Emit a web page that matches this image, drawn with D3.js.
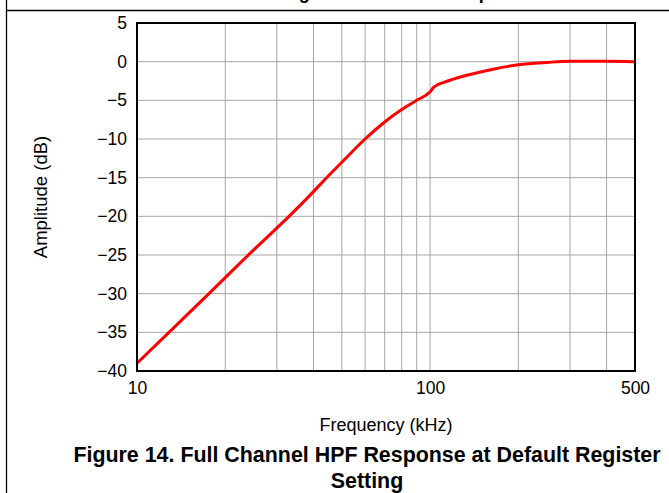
<!DOCTYPE html>
<html>
<head>
<meta charset="utf-8">
<script src="https://cdn.jsdelivr.net/npm/d3@7"></script>
<style>
  body { margin: 0; background: #fff; }
  svg { display: block; font-family: "Liberation Sans", Arial, sans-serif; }
</style>
</head>
<body>
<div id="chart"></div>
<script>
// values
const freqKHz = [10, 12.7, 17.7, 24.6, 33, 37.5, 46.5, 50, 60, 70, 80, 90, 100, 103, 115, 150, 200, 250, 300, 400, 500];
const ampDB   = [-39, -35.2, -29.9, -24.6, -20, -17.9, -14.2, -13.0, -10.0, -7.8, -6.2, -5.0, -3.9, -3.3, -2.5, -1.3, -0.4, -0.1, 0.05, 0.05, 0];

const yTicks = [5, 0, -5, -10, -15, -20, -25, -30, -35, -40];
const xGrid = [20, 30, 40, 50, 60, 70, 80, 90, 100, 200, 300, 400];
const xLabels = [10, 100, 500];

const data = freqKHz.map((f, i) => ({ f: f, a: ampDB[i] }));

const width = 669, height = 493;
const margin = { top: 23, right: 34, bottom: 122, left: 137 };

const svg = d3.select("#chart").append("svg")
    .attr("width", width)
    .attr("height", height);

const x = d3.scaleLog().domain([10, 500])
    .range([margin.left, width - margin.right]);
const y = d3.scaleLinear().domain([-40, 5])
    .range([height - margin.bottom, margin.top]);

// outer frame of the datasheet box
svg.append("line").attr("x1", 6.5).attr("x2", 6.5).attr("y1", 0).attr("y2", height)
    .attr("stroke", "#000").attr("stroke-width", 1.3);
svg.append("line").attr("x1", 6).attr("x2", width).attr("y1", 10.5).attr("y2", 10.5)
    .attr("stroke", "#000").attr("stroke-width", 1.3);

// heading of the box, cut off by the top edge (only descenders show)
svg.append("text")
    .attr("x", 143).attr("y", -1)
    .attr("font-size", 18).attr("font-weight", "bold")
    .text("Full Channel Voltage Gain Transfer Response");

// grid
svg.append("g").selectAll("line")
    .data(xGrid)
    .join("line")
    .attr("x1", d => x(d)).attr("x2", d => x(d))
    .attr("y1", margin.top).attr("y2", height - margin.bottom)
    .attr("stroke", "#a6a6a6").attr("stroke-width", 1);

svg.append("g").selectAll("line")
    .data(yTicks)
    .join("line")
    .attr("x1", margin.left).attr("x2", width - margin.right)
    .attr("y1", d => y(d)).attr("y2", d => y(d))
    .attr("stroke", "#a6a6a6").attr("stroke-width", 1);

// curve
const line = d3.line()
    .x(d => x(d.f))
    .y(d => y(d.a))
    .curve(d3.curveMonotoneX);

svg.append("path")
    .datum(data)
    .attr("d", line)
    .attr("fill", "none")
    .attr("stroke", "#ff0000")
    .attr("stroke-width", 3);

// plot border
svg.append("rect")
    .attr("x", margin.left).attr("y", margin.top)
    .attr("width", width - margin.left - margin.right)
    .attr("height", height - margin.top - margin.bottom)
    .attr("fill", "none").attr("stroke", "#000").attr("stroke-width", 2);

// axes labels
const yAxis = g => g
    .attr("transform", `translate(${margin.left},0)`)
    .call(d3.axisLeft(y).tickValues(yTicks).tickSize(0).tickPadding(10).tickFormat(d3.format("")))
    .call(g => g.select(".domain").remove());

svg.append("g")
    .call(yAxis)
    .selectAll("text")
    .attr("font-size", 17.5)
    .attr("font-family", "Liberation Sans, Arial, sans-serif")
    .attr("fill", "#000");

const xAxis = g => g
    .attr("transform", `translate(0,${height - margin.bottom})`)
    .call(d3.axisBottom(x).tickValues(xLabels).tickSize(0).tickPadding(11).tickFormat(d3.format("")))
    .call(g => g.select(".domain").remove());

svg.append("g")
    .call(xAxis)
    .selectAll("text")
    .attr("font-size", 17.5)
    .attr("font-family", "Liberation Sans, Arial, sans-serif")
    .attr("fill", "#000");

svg.append("text")
    .attr("transform", `translate(47,${(margin.top + height - margin.bottom) / 2}) rotate(-90)`)
    .attr("text-anchor", "middle")
    .attr("font-size", 18.5)
    .text("Amplitude (dB)");

svg.append("text")
    .attr("x", (margin.left + width - margin.right) / 2)
    .attr("y", 431)
    .attr("text-anchor", "middle")
    .attr("font-size", 18)
    .text("Frequency (kHz)");

// caption
svg.append("text")
    .attr("x", 367).attr("y", 462)
    .attr("text-anchor", "middle")
    .attr("font-size", 21.4).attr("font-weight", "bold")
    .text("Figure 14. Full Channel HPF Response at Default Register");
svg.append("text")
    .attr("x", 367).attr("y", 488)
    .attr("text-anchor", "middle")
    .attr("font-size", 21.4).attr("font-weight", "bold")
    .text("Setting");
</script>
</body>
</html>
